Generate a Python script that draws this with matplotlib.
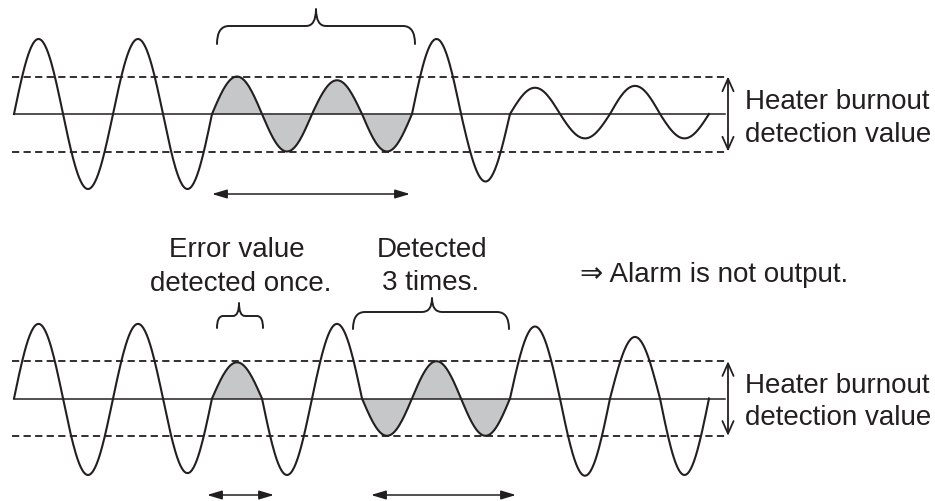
import numpy as np
import matplotlib
matplotlib.use("Agg")
import matplotlib.pyplot as plt
from matplotlib.path import Path
from matplotlib.patches import PathPatch

# ---- data (half-cycle zero crossings in px-time units, half-cycle amplitudes in threshold units)
crossings = [14, 63, 113, 163, 212, 262, 312, 362, 412, 461, 510, 560, 610, 660, 709]
amp_top = [2.0, -2.0, 2.0, -2.0, 1.0, -1.0, 0.9, -1.0, 2.0, -1.8, 0.7, -0.65, 0.75, -0.65]
amp_bot = [2.0, -2.05, 2.0, -2.0, 0.97, -2.05, 2.0, -1.0, 1.0, -1.0, 1.93, -2.07, 1.65, -2.05]
fill_top = [(212, 412)]
fill_bot = [(212, 262), (362, 510)]
threshold = 1.0
label_side = ["Heater burnout", "detection value"]

INK = "#231f20"
GREY = "#c6c7c9"
FONT = ["Liberation Sans", "DejaVu Sans"]

W, H = 935, 502
fig = plt.figure(figsize=(W / 100, H / 100), dpi=100)

def panel_axes(px_top, px_bot, base_px, unit_px):
    ax = fig.add_axes([0, 1 - px_bot / H, 1, (px_bot - px_top) / H])
    ax.set_xlim(0, W)
    ax.set_ylim((base_px - px_bot) / unit_px, (base_px - px_top) / unit_px)
    ax.axis("off")
    return ax

def wave(amps):
    xs, ys = [], []
    for i, a in enumerate(amps):
        x0, x1 = crossings[i], crossings[i + 1]
        t = np.linspace(0, 1, 60)
        xs.append(x0 + (x1 - x0) * t)
        ys.append(a * np.sin(np.pi * t))
    return np.concatenate(xs), np.concatenate(ys)

def draw_panel(ax, amps, fills):
    x, y = wave(amps)
    for a, b in fills:
        m = (x >= a) & (x <= b)
        ax.fill_between(x[m], y[m], 0, color=GREY, lw=0, zorder=1)
    ax.plot([crossings[0], 725], [0, 0], color=INK, lw=1.1, zorder=2)
    for lev in (threshold, -threshold):
        ax.plot([12, 728], [lev, lev], color=INK, lw=1.3,
                linestyle=(0, (4.0, 2.4)), zorder=2)
    ax.plot(x, y, color=INK, lw=1.5, zorder=3, solid_joinstyle="round")
    ax.annotate("", xy=(728, threshold), xytext=(728, -threshold),
                arrowprops=dict(arrowstyle="<->,head_length=0.9,head_width=0.4",
                                color=INK, lw=1.3, shrinkA=0, shrinkB=0))

ax_top = panel_axes(0, 251, 115, 37.5)
ax_bot = panel_axes(251, 502, 399.5, 37.3)
draw_panel(ax_top, amp_top, fill_top)
draw_panel(ax_bot, amp_bot, fill_bot)

# ---- overlay for annotations, in pixel coordinates
ov = fig.add_axes([0, 0, 1, 1], facecolor="none")
ov.set_xlim(0, W)
ov.set_ylim(H, 0)
ov.axis("off")

def brace(x0, x1, xc, ytip, yh, ytop, r=11, rc=9):
    verts = [(x0, ytip), (x0, yh), (x0 + r, yh),
             (xc - rc, yh),
             (xc, yh), (xc, ytop),
             (xc, yh), (xc + rc, yh),
             (x1 - r, yh),
             (x1, yh), (x1, ytip)]
    codes = [Path.MOVETO, Path.CURVE3, Path.CURVE3,
             Path.LINETO,
             Path.CURVE3, Path.CURVE3,
             Path.CURVE3, Path.CURVE3,
             Path.LINETO,
             Path.CURVE3, Path.CURVE3]
    ov.add_patch(PathPatch(Path(verts, codes), fill=False, ec=INK, lw=1.4,
                           capstyle="round", joinstyle="round"))

brace(217, 415, 316, 45, 27, 10, r=12, rc=10)
brace(217, 263, 239, 329, 317, 304, r=6, rc=6)
brace(353, 509, 432, 330, 313, 299, r=12, rc=10)

def harrow(x0, x1, y):
    ov.annotate("", xy=(x1, y), xytext=(x0, y),
                arrowprops=dict(arrowstyle="<|-|>,head_length=0.9,head_width=0.27",
                                color=INK, lw=1.1, shrinkA=0, shrinkB=0))

harrow(212, 410, 195)
harrow(207, 274, 496)
harrow(371, 516, 496)

txt = dict(fontsize=20, color=INK, family=FONT, va="baseline")
ov.text(745, 109, label_side[0], ha="left", **txt)
ov.text(745, 142, label_side[1], ha="left", **txt)
ov.text(745, 393, label_side[0], ha="left", **txt)
ov.text(745, 425, label_side[1], ha="left", **txt)
ov.text(237, 257, "Error value", ha="center", **txt)
ov.text(241, 291, "detected once.", ha="center", **txt)
ov.text(432, 257, "Detected", ha="center", **txt)
ov.text(431, 290, "3 times.", ha="center", **txt)
ov.text(580, 282, "\u21d2 Alarm is not output.", ha="left", **txt)

fig.savefig("out.png", dpi=100, facecolor="white")
